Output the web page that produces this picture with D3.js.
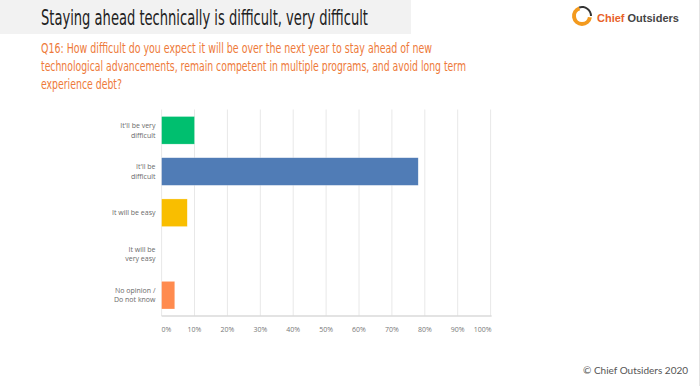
<!DOCTYPE html>
<html>
<head>
<meta charset="utf-8">
<script src="https://cdn.jsdelivr.net/npm/d3@7"></script>
<style>
  body { margin: 0; background: #fff; }
  svg { display: block; }
</style>
</head>
<body>
<div id="chart-container"></div>
<script>
// Chart data
const categories = [
    ["It'll be very", "difficult"],
    ["It'll be", "difficult"],
    ["It will be easy"],
    ["It will be", "very easy"],
    ["No opinion /", "Do not know"]
];
const values = [10, 78, 7.8, 0, 4];
const barColors = ["#00BF6F", "#507CB6", "#F9BE00", "#FF8B4F", "#FF8B4F"];
const tickValues = [0, 10, 20, 30, 40, 50, 60, 70, 80, 90, 100];

const title = "Staying ahead technically is difficult, very difficult";
const question = [
    "Q16: How difficult do you expect it will be over the next year to stay ahead of new",
    "technological advancements, remain competent in multiple programs, and avoid long term",
    "experience debt?"
];

const width = 700;
const height = 386;
const textFont = "'Liberation Sans Narrow', 'DejaVu Sans Condensed', Lato, sans-serif";

const svg = d3.select("#chart-container")
    .append("svg")
    .attr("width", width)
    .attr("height", height);

// Header band
svg.append("rect")
    .attr("x", 0).attr("y", 0)
    .attr("width", 411).attr("height", 34)
    .attr("fill", "#F2F2F2");

svg.append("text")
    .attr("x", 41)
    .attr("y", 25)
    .attr("font-family", textFont)
    .attr("font-size", 21)
    .attr("fill", "#222")
    .attr("textLength", 327)
    .attr("lengthAdjust", "spacingAndGlyphs")
    .text(title);

// Question text
const qWidths = [391, 425, 81];
svg.append("g")
    .selectAll("text")
    .data(question)
    .join("text")
    .attr("x", 41)
    .attr("y", (d, i) => 53 + i * 18)
    .attr("font-family", textFont)
    .attr("font-size", 14)
    .attr("fill", "#EE7A3A")
    .attr("textLength", (d, i) => qWidths[i])
    .attr("lengthAdjust", "spacingAndGlyphs")
    .text(d => d);

// Logo
const logo = svg.append("g").attr("transform", "translate(582,16)");
logo.append("path")
    .attr("d", d3.arc()({innerRadius: 6, outerRadius: 10, startAngle: Math.PI * 0.55, endAngle: Math.PI * 1.9}))
    .attr("fill", "#F39A1E");
logo.append("path")
    .attr("d", d3.arc()({innerRadius: 8, outerRadius: 10, startAngle: -Math.PI * 0.1, endAngle: Math.PI * 0.5}))
    .attr("fill", "#333");
svg.append("text")
    .attr("x", 597)
    .attr("y", 22)
    .attr("font-family", "'Liberation Sans', Arial, sans-serif")
    .attr("font-size", 11)
    .attr("font-weight", "bold")
    .call(t => {
        t.append("tspan").attr("fill", "#E8622A").text("Chief ");
        t.append("tspan").attr("fill", "#444").text("Outsiders");
    });

// Chart area
const plot = {left: 161.6, right: 490.6, top: 109.5, bottom: 316};

const xScale = d3.scaleLinear()
    .domain([0, 100])
    .range([plot.left, plot.right]);

const yScale = d3.scaleBand()
    .domain(d3.range(categories.length))
    .range([plot.top, plot.bottom])
    .paddingInner(0.33)
    .paddingOuter(0.17);

// Gridlines
svg.append("g")
    .selectAll("line")
    .data(tickValues)
    .join("line")
    .attr("x1", d => xScale(d))
    .attr("x2", d => xScale(d))
    .attr("y1", plot.top)
    .attr("y2", plot.bottom)
    .attr("stroke", "#E8E8E8")
    .attr("stroke-width", 1);

svg.append("line")
    .attr("x1", plot.left).attr("x2", plot.right + 1)
    .attr("y1", plot.bottom).attr("y2", plot.bottom)
    .attr("stroke", "#DADADA")
    .attr("stroke-width", 1.5);

// Bars
svg.selectAll(".bar")
    .data(values)
    .join("rect")
    .attr("class", "bar")
    .attr("x", xScale(0))
    .attr("y", (d, i) => yScale(i))
    .attr("width", d => xScale(d) - xScale(0))
    .attr("height", yScale.bandwidth())
    .attr("fill", (d, i) => barColors[i])
    .attr("stroke", "#fff")
    .attr("stroke-opacity", 0.5)
    .attr("stroke-width", 0.5);

// Category labels
svg.append("g")
    .selectAll("text")
    .data(categories)
    .join("text")
    .attr("x", 155.5)
    .attr("y", (d, i) => yScale(i) + yScale.bandwidth() / 2 + 2.5 - (d.length - 1) * 4.75)
    .attr("text-anchor", "end")
    .attr("font-family", "'Open Sans', sans-serif")
    .attr("font-size", 7)
    .attr("fill", "#6A6A6A")
    .each(function(d) {
        d3.select(this).selectAll("tspan")
            .data(d)
            .join("tspan")
            .attr("x", 155.5)
            .attr("dy", (t, j) => j === 0 ? 0 : 9.5)
            .text(t => t);
    });

// X tick labels
svg.append("g")
    .selectAll("text")
    .data(tickValues)
    .join("text")
    .attr("x", d => d === 100 ? xScale(d) + 1 : xScale(d))
    .attr("y", 332)
    .attr("text-anchor", d => d === 0 ? "start" : d === 100 ? "end" : "middle")
    .attr("font-family", "'Open Sans', sans-serif")
    .attr("font-size", 7)
    .attr("fill", "#777")
    .text(d => d + "%");

// Footer
svg.append("text")
    .attr("x", 583)
    .attr("y", 374)
    .attr("font-family", "Lato, 'Open Sans', sans-serif")
    .attr("font-size", 10)
    .attr("fill", "#555")
    .text("© Chief Outsiders 2020");

svg.append("line")
    .attr("x1", 699.5).attr("x2", 699.5)
    .attr("y1", 0).attr("y2", height)
    .attr("stroke", "#E4E4E4");
</script>
</body>
</html>
